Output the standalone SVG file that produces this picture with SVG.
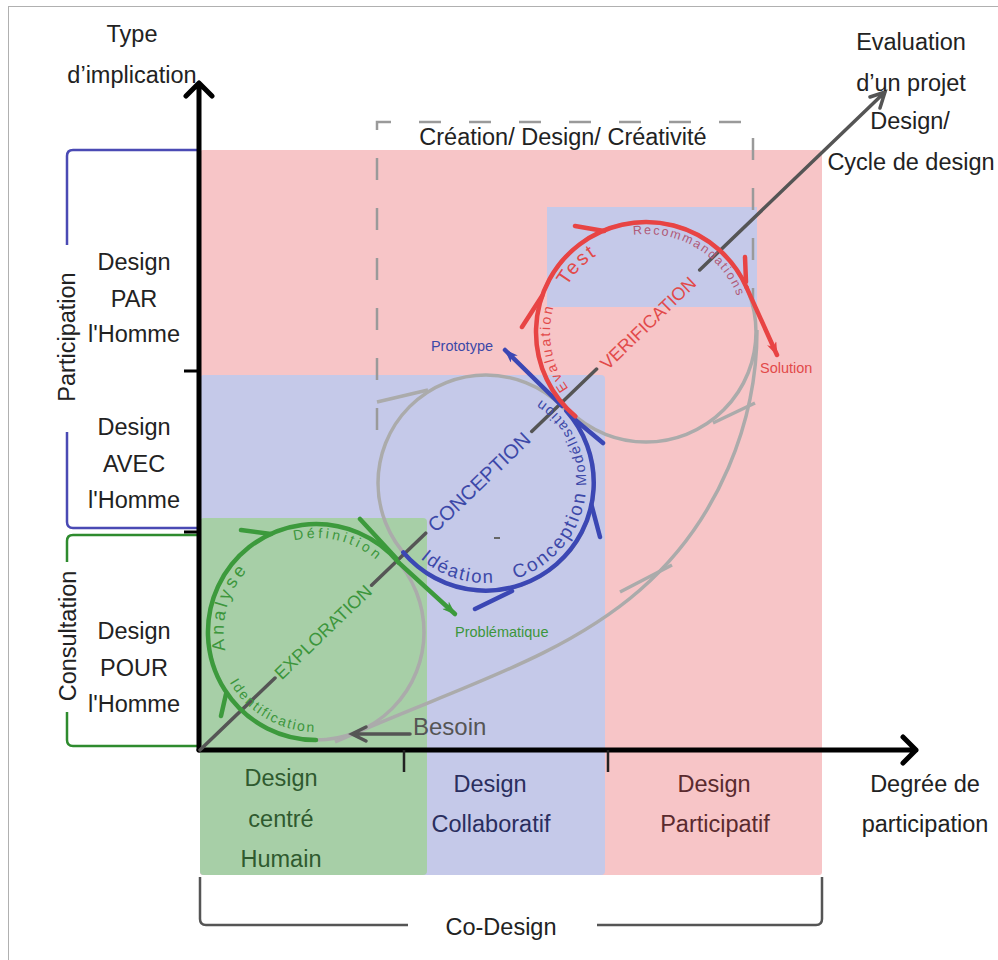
<svg xmlns="http://www.w3.org/2000/svg" width="998" height="960" viewBox="0 0 998 960">
<defs>
<style>
text{font-family:"Liberation Sans",Arial,sans-serif}
.big{font-size:23.5px;fill:#222;text-anchor:middle}
.gr{fill:none;stroke:#ababab;stroke-width:3.5}
.dg{fill:none;stroke:#555;stroke-width:3.5;stroke-linecap:round}
.ax{fill:none;stroke:#000;stroke-width:5;stroke-linecap:round;stroke-linejoin:round}
.cg{fill:none;stroke:#3c9a3c;stroke-width:4.5;stroke-linecap:round}
.cb{fill:none;stroke:#3b47b4;stroke-width:4.5;stroke-linecap:round}
.cr{fill:none;stroke:#e84444;stroke-width:4.5;stroke-linecap:round}
.tg{fill:#3c963c}
.tb{fill:#3c48a8}
.tr{fill:#e24a4a}
</style>
<marker id="ahg" viewBox="0 0 14 10" refX="13" refY="5" markerWidth="14" markerHeight="10" markerUnits="userSpaceOnUse" orient="auto"><path d="M0,0 L14,5 L0,10 L4,5 z" fill="#3c9a3c"/></marker>
<marker id="ahb" viewBox="0 0 14 10" refX="13" refY="5" markerWidth="14" markerHeight="10" markerUnits="userSpaceOnUse" orient="auto"><path d="M0,0 L14,5 L0,10 L4,5 z" fill="#3b47b4"/></marker>
<marker id="ahr" viewBox="0 0 14 10" refX="13" refY="5" markerWidth="14" markerHeight="10" markerUnits="userSpaceOnUse" orient="auto"><path d="M0,0 L14,5 L0,10 L4,5 z" fill="#e84444"/></marker>
<path id="pDef" d="M248.4,566.7 A94,94 0 0 1 406.4,606.1"/>
<path id="pAna" d="M235.5,676.6 A91,91 0 0 1 271.4,551.5"/>
<path id="pIde" d="M222,666.2 A100,100 0 0 0 333.4,730.5"/>
<path id="pIdea" d="M401.2,536 A100,100 0 0 0 523.5,575.7"/>
<path id="pConc" d="M487.7,583 A100,100 0 0 0 584.2,463.9"/>
<path id="pMod" d="M581.6,512.2 A100,100 0 0 0 515.2,387.4"/>
<path id="pEva" d="M598,415.1 A96,96 0 0 1 572.5,270.3"/>
<path id="pTest" d="M555.2,325.6 A90,90 0 0 1 636.5,241.5"/>
<path id="pRec" d="M598.5,246.3 A98,98 0 0 1 744,333.7"/>
</defs>

<rect x="8.5" y="6.5" width="1000" height="1000" fill="#fff" stroke="#b0b0b0" stroke-width="1"/>

<g id="zones">
<rect x="200" y="150" width="622" height="725" rx="3" fill="#f7c5c7"/>
<rect x="200" y="375" width="405" height="500" rx="4" fill="#c5c9e9"/>
<rect x="200" y="518" width="227" height="357" rx="4" fill="#a7cfa7"/>
<rect x="547" y="207" width="210" height="100" fill="#c5c9e9"/>
</g>

<g id="creation-frame">
<path d="M377,430 V122 H753 V300" fill="none" stroke="#9a9a9a" stroke-width="2.5" stroke-dasharray="22 28"/>
<text x="563" y="145" class="big">Création/ Design/ Créativité</text>
</g>

<g id="brackets" fill="none" stroke-width="2.5">
<path d="M197,150 H73 Q67,150 67,156 V245 M67,432 V522 Q67,528 73,528 H197" stroke="#4a4ab4"/>
<path d="M197,535 H73 Q67,535 67,541 V562 M67,712 V740 Q67,746 73,746 H197" stroke="#2e8b2e"/>
<path d="M200,877 V919 Q200,925 206,925 H408 M597,925 H816 Q822,925 822,919 V877" stroke="#555"/>
</g>

<g id="grey-cycle">
<circle cx="316" cy="632" r="108" class="gr"/>
<circle cx="486" cy="483" r="108" class="gr"/>
<circle cx="646" cy="332" r="110" class="gr"/>
<path d="M757,330 C757,420 720,520 640,590 S450,690 335,742" class="gr" stroke-width="2.5"/>
<path d="M377,402 L428,390 M755,403 L713,423 M672,565 L620,592" class="gr" stroke-width="2.5"/>
<path d="M494,538 L500,538" stroke="#666" stroke-width="2"/>
</g>

<g id="connectors">
<path d="M199,750 V84 M186,96 L199,83 L212,96" class="ax"/>
<path d="M199,750 H916 M903,737 L916,750 L903,763" class="ax"/>
<path d="M184,371 H199 M184,532 H199" stroke="#000" stroke-width="3"/>
<path d="M404,750 V772 M608,750 V772" stroke="#222" stroke-width="2.5"/>
<path d="M200,750 L275,678 M371.6,585.2 L425.7,533.2 M531.7,431.4 L596.6,369.1 M699.7,270 L885,92 M870,97 L885,92 L880,108" class="dg"/>
<path d="M410,734 H352 M366,727 L352,734 L366,741" class="dg" stroke-width="2.5"/>
</g>

<g id="exploration">
<path d="M316,740 A108,108 0 1 1 398.7,562.6" class="cg"/>
<path d="M398.7,562.6 L455,614" class="cg" stroke-width="3" marker-end="url(#ahg)"/>
<path d="M241,530 L271,534 M360,519 L396,558 M221,716 L226,694" class="cg" stroke-width="3"/>
<text class="tg" font-size="14" letter-spacing="3.2"><textPath href="#pDef" startOffset="50%" text-anchor="middle">Définition</textPath></text>
<text class="tg" font-size="18" letter-spacing="3.5"><textPath href="#pAna" startOffset="50%" text-anchor="middle">Analyse</textPath></text>
<text class="tg" font-size="14" letter-spacing="1.8"><textPath href="#pIde" startOffset="50%" text-anchor="middle">Identification</textPath></text>
<text transform="translate(323,632) rotate(-43.85)" dy="0.35em" class="tg" font-size="18" text-anchor="middle">EXPLORATION</text>
<text x="455" y="637" class="tg" font-size="14.5">Problématique</text>
</g>

<g id="conception">
<path d="M403.3,552.4 A108,108 0 1 0 566.3,410.7" class="cb"/>
<path d="M562,406 L505,350" class="cb" stroke-width="3" marker-end="url(#ahb)"/>
<path d="M475,609 L512,591 M600,537 L591.5,505 M603,443 L573,418" class="cb" stroke-width="3"/>
<text class="tb" font-size="18.5" letter-spacing="1.8"><textPath href="#pIdea" startOffset="50%" text-anchor="middle">Idéation</textPath></text>
<text class="tb" font-size="19" letter-spacing="2.2"><textPath href="#pConc" startOffset="50%" text-anchor="middle">Conception</textPath></text>
<text class="tb" font-size="14.5" letter-spacing="1.8"><textPath href="#pMod" startOffset="50%" text-anchor="middle">Modélisation</textPath></text>
<text transform="translate(479,482) rotate(-43.85)" dy="0.35em" class="tb" font-size="20" text-anchor="middle">CONCEPTION</text>
<text x="462" y="351" class="tb" font-size="14.5" text-anchor="middle">Prototype</text>
</g>

<g id="verification">
<path d="M575.3,416.3 A110,110 0 1 1 746.5,287.3" class="cr"/>
<path d="M746.5,287.3 L777,355" class="cr" stroke-width="3" marker-end="url(#ahr)"/>
<path d="M522,327 L542,296 M575,226 L604,231 M745,257 L746,282" class="cr" stroke-width="3"/>
<text class="tr" font-size="14" letter-spacing="2.2"><textPath href="#pEva" startOffset="50%" text-anchor="middle">Evaluation</textPath></text>
<text class="tr" font-size="20" letter-spacing="2"><textPath href="#pTest" startOffset="50%" text-anchor="middle">Test</textPath></text>
<text font-size="12.5" letter-spacing="1.8" fill="#b05a78"><textPath href="#pRec" startOffset="50%" text-anchor="middle">Recommandations</textPath></text>
<text transform="translate(648,323) rotate(-43.85)" dy="0.35em" class="tr" font-size="18" text-anchor="middle">VERIFICATION</text>
<text x="760" y="373" class="tr" font-size="14.5">Solution</text>
</g>

<g id="besoin"><text x="413" y="735" font-size="24" fill="#555">Besoin</text></g>

<g id="axis-y-label"><text x="132" y="42" class="big">Type</text><text x="132" y="83" class="big">d’implication</text></g>
<g id="axis-d-label"><text x="911" y="50" class="big">Evaluation</text><text x="911" y="91" class="big">d’un projet</text><text x="910" y="129" class="big">Design/</text><text x="911" y="170" class="big">Cycle de design</text></g>
<g id="axis-x-label"><text x="925" y="792" class="big">Degrée de</text><text x="925" y="832" class="big">participation</text></g>

<g id="participation"><text transform="translate(75,337) rotate(-90)" class="big" font-size="24">Participation</text></g>
<g id="consultation"><text transform="translate(76,636) rotate(-90)" class="big" font-size="24">Consultation</text></g>
<g id="design-par"><text x="134" y="270" class="big">Design</text><text x="134" y="307" class="big">PAR</text><text x="134" y="342" class="big">l'Homme</text></g>
<g id="design-avec"><text x="134" y="435" class="big">Design</text><text x="134" y="472" class="big">AVEC</text><text x="134" y="508" class="big">l'Homme</text></g>
<g id="design-pour"><text x="134" y="639" class="big">Design</text><text x="134" y="676" class="big">POUR</text><text x="134" y="712" class="big">l'Homme</text></g>

<g id="centre-humain"><text x="281" y="786" class="big" style="fill:#2f5a2f">Design</text><text x="281" y="827" class="big" style="fill:#2f5a2f">centré</text><text x="281" y="867" class="big" style="fill:#2f5a2f">Humain</text></g>
<g id="collaboratif"><text x="490" y="792" class="big" style="fill:#2a2e5e">Design</text><text x="491" y="832" class="big" style="fill:#2a2e5e">Collaboratif</text></g>
<g id="participatif"><text x="714" y="792" class="big" style="fill:#5a2a2e">Design</text><text x="715" y="832" class="big" style="fill:#5a2a2e">Participatif</text></g>
<g id="co-design"><text x="501" y="935" class="big">Co-Design</text></g>
</svg>
